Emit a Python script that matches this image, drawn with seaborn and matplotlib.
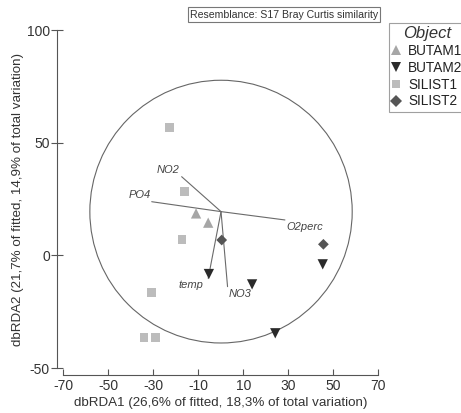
import matplotlib
matplotlib.use("Agg")
import matplotlib.pyplot as plt
import seaborn as sns
import pandas as pd
from matplotlib.patches import Circle
from matplotlib.lines import Line2D

# ---- data ----
groups = ["BUTAM1", "BUTAM1",
          "BUTAM2", "BUTAM2", "BUTAM2", "BUTAM2",
          "SILIST1", "SILIST1", "SILIST1", "SILIST1", "SILIST1", "SILIST1",
          "SILIST2", "SILIST2"]
x_vals = [-11.0, -5.6,
          -5.3, 13.9, 45.3, 24.2,
          -22.7, -16.2, -17.3, -30.7, -34.1, -29.0,
          0.4, 45.6]
y_vals = [18.6, 14.5,
          -8.3, -12.9, -4.0, -34.6,
          56.7, 28.4, 7.1, -16.4, -36.4, -36.4,
          6.8, 4.9]

vec_names = ["NO2", "PO4", "O2perc", "temp", "NO3"]
vec_x = [-17.4, -30.7, 28.5, -5.6, 3.0]
vec_y = [34.9, 23.8, 15.7, -10.2, -13.9]
vec_lab_x = [-23.3, -35.9, 37.4, -13.4, 8.5]
vec_lab_y = [37.9, 26.8, 12.7, -13.2, -17.2]
origin = (0.1, 19.4)
circle_r = 58.3

x_ticks = [-70, -50, -30, -10, 10, 30, 50, 70]
y_ticks = [-50, 0, 50, 100]
order = ["BUTAM1", "BUTAM2", "SILIST1", "SILIST2"]

df = pd.DataFrame({"x": x_vals, "y": y_vals, "Object": groups})

sns.set_style("white")
plt.rcParams["font.family"] = ["Liberation Sans", "DejaVu Sans"]
plt.rcParams["axes.unicode_minus"] = False

fig = plt.figure(figsize=(4.61, 4.13), dpi=100)
ax = fig.add_axes([63.3 / 461, 45 / 413, 315 / 461, 338 / 413])

palette = {"BUTAM1": "#a6a6a6", "BUTAM2": "#2a2a2a", "SILIST1": "#bcbcbc", "SILIST2": "#555555"}
markers = {"BUTAM1": "^", "BUTAM2": "v", "SILIST1": "s", "SILIST2": "D"}
sizes = {"BUTAM1": 55, "BUTAM2": 55, "SILIST1": 38, "SILIST2": 30}

for g in order:
    sub = df[df["Object"] == g]
    sns.scatterplot(data=sub, x="x", y="y", color=palette[g], marker=markers[g],
                    s=sizes[g], edgecolor="none", linewidth=0, ax=ax, legend=False,
                    zorder=3)

ax.add_patch(Circle(origin, circle_r, fill=False, edgecolor="#666666", linewidth=0.8, zorder=2))
for n, vx, vy, lx, ly in zip(vec_names, vec_x, vec_y, vec_lab_x, vec_lab_y):
    ax.plot([origin[0], vx], [origin[1], vy], color="#6a6a6a", linewidth=0.8, zorder=2)
    ax.text(lx, ly, n, fontsize=8, style="italic", color="#444444", ha="center", va="center")

ax.set_xlim(-70, 70)
ax.set_ylim(-50, 100)
ax.set_xticks(x_ticks)
ax.set_yticks(y_ticks)
ax.set_xlabel("dbRDA1 (26,6% of fitted, 18,3% of total variation)", fontsize=9.6, color="#333333", labelpad=3)
ax.set_ylabel("dbRDA2 (21,7% of fitted, 14,9% of total variation)", fontsize=9.6, color="#333333", labelpad=2)

for s in ["top", "right"]:
    ax.spines[s].set_visible(False)
ax.spines["left"].set_position(("outward", 4.2))
ax.spines["bottom"].set_position(("outward", 5))
ax.spines["left"].set_bounds(-50, 100)
ax.spines["bottom"].set_bounds(-70, 70)
for s in ["left", "bottom"]:
    ax.spines[s].set_color("#555555")
    ax.spines[s].set_linewidth(0.8)
ax.tick_params(axis="y", direction="inout", length=9, width=0.8, color="#555555",
               labelsize=10, labelcolor="#333333", left=True, pad=1)
ax.tick_params(axis="x", direction="in", length=4, width=0.8, color="#555555",
               labelsize=10, labelcolor="#333333", bottom=True, pad=3)

# resemblance box
fig.text(284 / 461, 1 - 14.5 / 413, "Resemblance: S17 Bray Curtis similarity", fontsize=7.6,
         color="#333333", ha="center", va="center",
         bbox=dict(boxstyle="square,pad=0.22", facecolor="white", edgecolor="#777777", linewidth=0.8))

handles = [Line2D([], [], linestyle="none", marker=markers[g], color=palette[g],
                  markersize=7 if g in ("BUTAM1", "BUTAM2") else 6, markeredgewidth=0)
           for g in order]
leg = fig.legend(handles, order, loc="upper left", bbox_to_anchor=(389 / 461, 1 - 23 / 413),
                 frameon=True, fontsize=9.8, title="Object", handlelength=0.6,
                 handletextpad=0.55, borderpad=0.25, labelspacing=0.2, borderaxespad=0,
                 fancybox=False, edgecolor="#888888")
leg.get_title().set_fontsize(12)
leg.get_title().set_style("italic")
leg.get_title().set_color("#333333")
for t in leg.get_texts():
    t.set_color("#222222")
leg.get_frame().set_linewidth(0.8)

fig.savefig("out.png", dpi=100)
